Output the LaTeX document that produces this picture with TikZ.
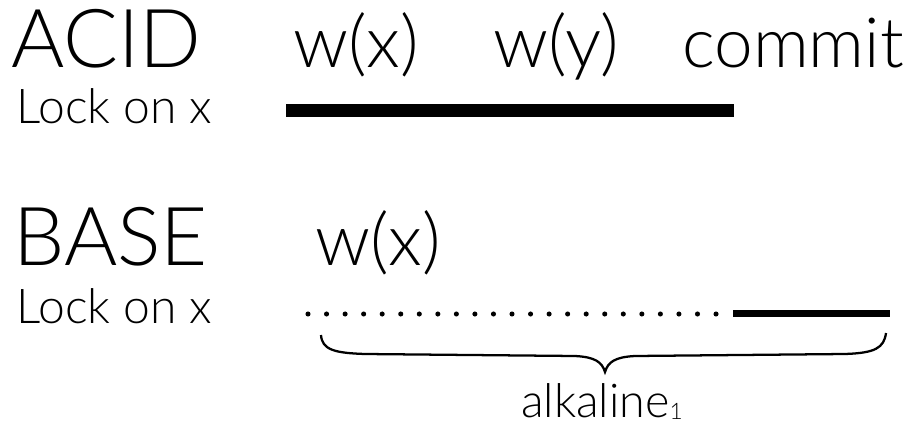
\documentclass[tikz,border=0pt]{standalone}
\usepackage{fontspec}
\setmainfont{Lato Light}
\begin{document}
\begin{tikzpicture}[x=0.75pt,y=-0.75pt,
  lbl/.style={inner sep=0pt,anchor=base west},
  big/.style={lbl,font=\fontsize{61}{70}\selectfont},
  mid/.style={lbl,font=\fontsize{54}{60}\selectfont},
  midc/.style={lbl,font=\fontsize{52}{60}\selectfont},
  small/.style={lbl,font=\fontsize{36}{44}\selectfont},
  lockbar/.style={line width=9.75pt},
  thinbar/.style={line width=5.25pt},
  dotbar/.style={line width=3.8pt,line cap=round,dash pattern=on 0pt off 13.91pt},
  bracepath/.style={line width=1.7pt}
]
\useasboundingbox (0,0) rectangle (911,432);
% ACID row
\node[big]   (acid)  at (11,67)  {ACID};
\node[small] (lock1) at (16,123) {Lock on x};
\node[mid]   (wx1)   at (293,67) {w(x)};
\node[mid]   (wy1)   at (493,67) {w(y)};
\node[midc]  (cm1)   at (682,67) {commit};
\coordinate (a1) at (286,110);
\coordinate (a2) at (734,110);
\draw[lockbar] (a1) -- (a2);
% BASE row
\node[big]   (base)  at (13,265) {BASE};
\node[small] (lock2) at (16,323) {Lock on x};
\node[mid]   (wx2)   at (315,265) {w(x)};
\coordinate (d1) at (308,314);
\coordinate (d2) at (718,314);
\coordinate (s1) at (733,313);
\coordinate (s2) at (890,313);
\draw[dotbar] (d1) -- (d2);
\draw[thinbar] (s1) -- (s2);
% brace
\coordinate (bl) at (321,335);
\coordinate (bt) at (605,372);
\coordinate (br) at (886,333);
\draw[bracepath] (bl) .. controls (322,350) and (335,353) .. (365,354)
  -- (575,356) .. controls (595,357) and (602,362) .. (bt)
  .. controls (608,362) and (615,357) .. (635,356)
  -- (845,354) .. controls (875,353) and (884,348) .. (br);
\node[inner sep=0pt,anchor=base west,font=\fontsize{35}{40}\selectfont] (alk) at (521,417)
  {alkaline\raisebox{-2pt}{\fontsize{17}{18}\selectfont 1}};
\end{tikzpicture}
\end{document}
